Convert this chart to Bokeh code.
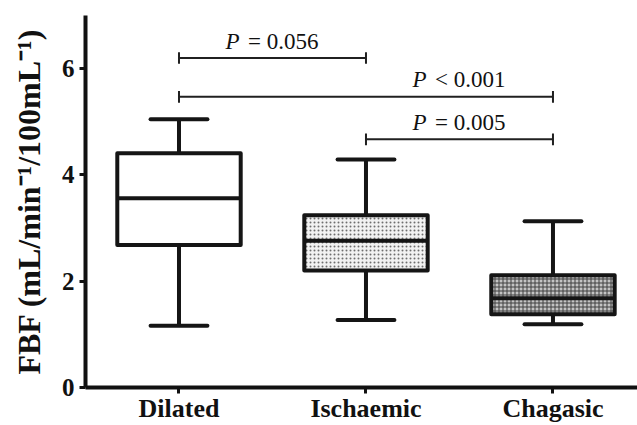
from bokeh.plotting import figure
from bokeh.models import Range1d, FixedTicker, ColumnDataSource
from bokeh.core.properties import value
from bokeh.embed import file_html
from bokeh.resources import INLINE

# ---- data ----
groups = ["Dilated", "Ischaemic", "Chagasic"]
lower = [1.16, 1.27, 1.19]
q1 = [2.68, 2.20, 1.38]
median = [3.56, 2.76, 1.68]
q3 = [4.41, 3.24, 2.11]
upper = [5.05, 4.29, 3.13]

y_ticks = [0, 2, 4, 6]

comp_from = [1, 1, 2]
comp_to = [2, 3, 3]
comp_y = [6.20, 5.47, 4.67]
comp_op = ["= 0.056", "< 0.001", "= 0.005"]
label_at = [1.5, 2.5, 2.5]

# ---- styles ----
fills = ["white", "#f2f2f2", "#c4c4c4"]
hatches = ["blank", "dot", "cross"]
hatch_colors = ["white", "#6e6e6e", "#404040"]
BOX_HALF = 0.33
CAP_HALF = 0.152
SERIF = "Liberation Serif"

xs = [i + 1 for i in range(len(groups))]

src = ColumnDataSource(dict(
    x=xs, left=[x - BOX_HALF for x in xs], right=[x + BOX_HALF for x in xs],
    lower=lower, q1=q1, median=median, q3=q3, upper=upper,
    cap_l=[x - CAP_HALF for x in xs], cap_r=[x + CAP_HALF for x in xs],
    fill=fills, hatch=hatches, hcol=hatch_colors,
))

p = figure(width=637, height=425, x_range=Range1d(0.5, 3.452), y_range=Range1d(0, 7),
           output_backend="svg", toolbar_location=None,
           min_border_left=85, min_border_top=15, min_border_right=0, min_border_bottom=0)
p.outline_line_color = None
p.grid.visible = False
p.background_fill_color = "white"

LW = 4
# whiskers
p.segment(x0="x", y0="q3", x1="x", y1="upper", source=src, line_width=LW, line_color="#151515")
p.segment(x0="x", y0="q1", x1="x", y1="lower", source=src, line_width=LW, line_color="#151515")
p.segment(x0="cap_l", y0="upper", x1="cap_r", y1="upper", source=src, line_width=LW,
          line_color="#151515", line_cap="round")
p.segment(x0="cap_l", y0="lower", x1="cap_r", y1="lower", source=src, line_width=LW,
          line_color="#151515", line_cap="round")
# boxes
p.quad(left="left", right="right", bottom="q1", top="q3", source=src,
       fill_color="fill", hatch_pattern="hatch", hatch_color="hcol", hatch_scale=4,
       hatch_weight=1, line_color="#151515", line_width=LW, line_join="round")
p.segment(x0="left", y0="median", x1="right", y1="median", source=src,
          line_width=LW, line_color="#151515")

# significance brackets
TICK_H = 0.11
p.segment(x0=comp_from, y0=comp_y, x1=comp_to, y1=comp_y, line_width=2, line_color="#202020")
p.segment(x0=comp_from, y0=[y - TICK_H for y in comp_y], x1=comp_from,
          y1=[y + TICK_H for y in comp_y], line_width=2, line_color="#202020")
p.segment(x0=comp_to, y0=[y - TICK_H for y in comp_y], x1=comp_to,
          y1=[y + TICK_H for y in comp_y], line_width=2, line_color="#202020")
p.text(x=label_at, y=comp_y, text=["P"] * len(comp_y), text_font=value(SERIF),
       text_font_style="italic", text_font_size="23px", text_align="left",
       text_baseline="alphabetic", x_offset=-47, y_offset=-17, text_color="#111111")
p.text(x=label_at, y=comp_y, text=comp_op, text_font=value(SERIF),
       text_font_size="23px", text_align="left",
       text_baseline="alphabetic", x_offset=-24.5, y_offset=-17, text_color="#111111")

# axes
for ax in (p.xaxis, p.yaxis):
    ax.axis_line_width = LW
    ax.axis_line_color = "#111111"
    ax.major_tick_line_width = 3
    ax.major_tick_line_color = "#111111"
    ax.major_tick_out = 6
    ax.major_tick_in = 0
    ax.minor_tick_line_color = None
    ax.major_label_text_font = SERIF
    ax.major_label_text_font_style = "bold"
    ax.major_label_text_color = "#111111"

p.xaxis.ticker = FixedTicker(ticks=xs)
p.xaxis.major_label_overrides = {x: g for x, g in zip(xs, groups)}
p.xaxis.major_label_text_font_size = "26px"
p.xaxis.major_label_standoff = 0

p.yaxis.ticker = FixedTicker(ticks=y_ticks)
p.yaxis.major_label_text_font_size = "25px"
p.yaxis.major_label_standoff = 5
p.yaxis.axis_label = "FBF (mL/min\u207b\u00b9/100mL\u207b\u00b9)"
p.yaxis.axis_label_text_font = SERIF
p.yaxis.axis_label_text_font_style = "bold"
p.yaxis.axis_label_text_font_size = "32px"
p.yaxis.axis_label_text_color = "#111111"
p.yaxis.axis_label_standoff = 12

open("out.html", "w").write(file_html(p, INLINE))
